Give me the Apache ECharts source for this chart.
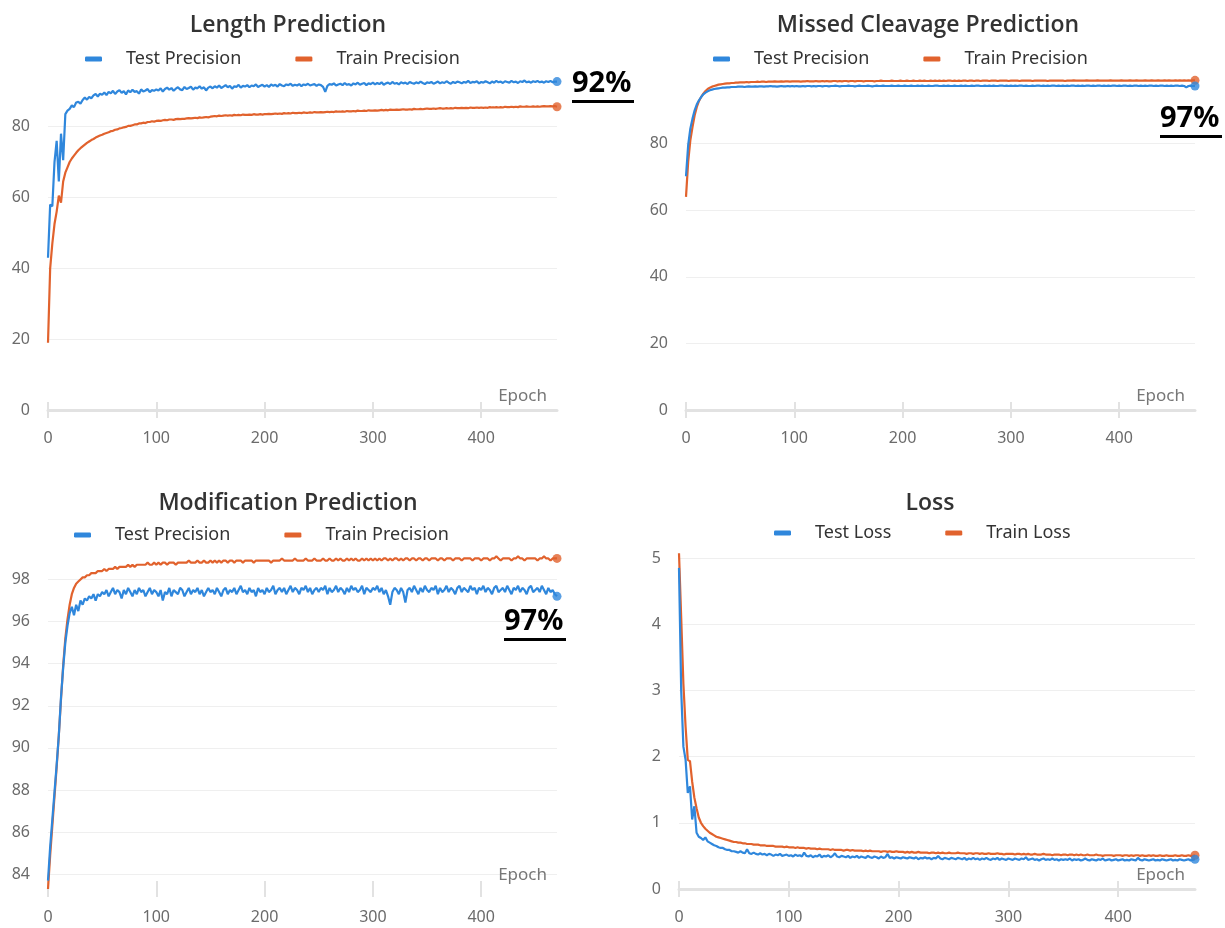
<!DOCTYPE html>
<html>
<head>
<meta charset="utf-8">
<script src="https://cdn.jsdelivr.net/npm/echarts@6/dist/echarts.min.js"></script>
<style>
  html, body { margin: 0; padding: 0; background: #ffffff; }
  #chart { width: 1225px; height: 928px; }
</style>
</head>
<body>
<div id="chart"></div>
<script>
// One value every EPOCH_STEP epochs, starting at epoch 0
const EPOCH_STEP = 2;
const epochTicks = [0, 100, 200, 300, 400];

const lengthTest = [
  43.0, 58.0, 57.5, 70.0, 76.0, 64.5, 78.0, 70.5, 83.5, 84.5, 85.0, 86.0, 85.5, 86.8, 87.0, 86.5, 87.5, 88.2, 87.6, 88.4, 88.0, 88.8, 89.2, 88.5, 89.3, 89.0,
  89.6, 88.9, 89.8, 89.4, 90.1, 89.2, 89.9, 90.3, 89.5, 90.0, 89.1, 90.2, 89.7, 90.4, 89.8, 90.0, 89.3, 90.5, 89.9, 90.2, 90.6, 89.7, 90.3, 90.1, 90.5,
  90.2, 90.8, 89.9, 90.6, 91.0, 90.4, 90.9, 90.1, 90.7, 91.1, 90.5, 90.3, 91.2, 90.6, 90.9, 91.3, 90.4, 91.0, 90.8, 91.4, 90.7, 91.1, 90.2, 91.0, 91.3,
  90.8, 91.4, 91.0, 91.6, 90.9, 91.3, 91.7, 91.1, 91.5, 90.7, 91.4, 91.2, 91.8, 91.0, 91.5, 91.3, 91.7, 91.1, 91.6, 91.4, 91.9, 91.2, 91.5, 91.8, 91.3,
  91.7, 91.2, 91.9, 91.5, 91.8, 91.3, 92.0, 91.6, 91.4, 91.9, 91.7, 92.1, 91.5, 91.8, 91.6, 92.0, 91.4, 91.9, 91.7, 92.1, 91.6, 91.8, 92.0, 91.5, 91.9,
  91.7, 91.2, 89.8, 91.5, 92.0, 91.8, 92.2, 91.6, 91.9, 92.1, 91.7, 92.3, 91.8, 92.0, 91.6, 92.2, 91.9, 92.4, 91.8, 92.1, 92.3, 91.7, 92.2, 92.0, 92.4,
  91.9, 92.3, 92.0, 92.5, 91.8, 92.2, 92.4, 92.0, 92.6, 92.1, 92.3, 91.9, 92.5, 92.2, 92.4, 92.0, 92.6, 92.3, 92.1, 92.5, 92.2, 92.7, 92.3, 92.0, 92.5,
  92.3, 92.6, 92.1, 92.4, 92.7, 92.2, 92.5, 92.3, 92.8, 92.4, 92.1, 92.6, 92.3, 92.7, 92.5, 92.2, 92.6, 92.4, 92.9, 92.3, 92.6, 92.5, 92.8, 92.2, 92.6,
  92.4, 92.8, 92.5, 92.2, 92.7, 92.4, 92.9, 92.5, 92.7, 92.3, 92.8, 92.6, 92.4, 92.9, 92.5, 92.7, 92.3, 92.8, 92.6, 93.0, 92.5, 92.7, 92.4, 92.8, 92.6,
  92.9, 92.5, 92.7, 92.4, 92.8, 92.6, 92.9, 92.5, 92.7, 92.7
];
const lengthTrain = [
  19.0, 40.0, 47.0, 52.5, 56.0, 60.5, 58.5, 64.5, 67.0, 68.5, 70.0, 71.0, 71.8, 72.6, 73.3, 73.9, 74.4, 74.9, 75.4, 75.8, 76.2, 76.5, 76.9, 77.2, 77.5, 77.7,
  78.0, 78.2, 78.4, 78.7, 78.8, 79.1, 79.2, 79.5, 79.6, 79.8, 79.9, 80.2, 80.2, 80.4, 80.6, 80.6, 80.9, 80.9, 81.1, 81.0, 81.3, 81.3, 81.5, 81.4, 81.6,
  81.7, 81.6, 81.8, 81.9, 81.8, 82.0, 82.0, 81.9, 82.1, 82.2, 82.1, 82.2, 82.2, 82.3, 82.4, 82.3, 82.4, 82.5, 82.4, 82.6, 82.5, 82.6, 82.7, 82.6, 82.8,
  82.9, 83.0, 82.9, 83.1, 83.0, 83.1, 83.2, 83.1, 83.2, 83.1, 83.3, 83.2, 83.3, 83.2, 83.4, 83.3, 83.3, 83.4, 83.3, 83.5, 83.4, 83.4, 83.5, 83.4, 83.5,
  83.5, 83.6, 83.5, 83.6, 83.7, 83.6, 83.7, 83.6, 83.8, 83.7, 83.8, 83.7, 83.9, 83.8, 83.8, 83.9, 83.8, 84.0, 83.9, 83.9, 84.0, 83.9, 84.1, 84.0, 84.0,
  84.1, 84.0, 84.1, 84.2, 84.1, 84.2, 84.1, 84.3, 84.2, 84.2, 84.3, 84.2, 84.4, 84.3, 84.3, 84.4, 84.3, 84.5, 84.4, 84.4, 84.5, 84.4, 84.6, 84.5, 84.5,
  84.6, 84.5, 84.6, 84.7, 84.6, 84.7, 84.6, 84.8, 84.7, 84.7, 84.8, 84.7, 84.8, 84.9, 84.8, 84.8, 84.9, 84.8, 85.0, 84.9, 84.9, 85.0, 84.9, 85.0, 85.1,
  85.0, 85.0, 85.1, 85.0, 85.1, 85.2, 85.1, 85.1, 85.2, 85.1, 85.2, 85.1, 85.3, 85.2, 85.2, 85.3, 85.2, 85.3, 85.2, 85.4, 85.3, 85.3, 85.4, 85.3, 85.4,
  85.3, 85.4, 85.3, 85.5, 85.4, 85.4, 85.5, 85.4, 85.5, 85.4, 85.6, 85.5, 85.5, 85.6, 85.5, 85.6, 85.5, 85.7, 85.6, 85.6, 85.7, 85.6, 85.6, 85.7, 85.6,
  85.7, 85.6, 85.7, 85.8, 85.7, 85.7, 85.8, 85.7, 85.8, 85.6
];

const cleavageTest = [
  70.2, 79.5, 84.5, 87.5, 90.0, 91.8, 93.0, 94.0, 94.8, 95.3, 95.7, 96.0, 96.2, 96.4, 96.5, 96.6, 96.7, 96.8, 96.8, 96.9, 96.9, 97.0, 97.0, 97.0, 97.1, 97.1,
  97.1, 97.0, 97.1, 97.2, 97.1, 97.1, 97.2, 97.1, 97.2, 97.2, 97.1, 97.2, 97.2, 97.3, 97.2, 97.2, 97.1, 97.2, 97.3, 97.2, 97.2, 97.3, 97.2, 97.3, 97.2,
  97.3, 97.2, 97.2, 97.3, 97.2, 97.3, 97.3, 97.2, 97.3, 97.2, 97.3, 97.3, 97.2, 97.3, 97.3, 97.2, 97.3, 97.3, 97.4, 97.3, 97.2, 97.3, 97.3, 97.3, 97.4,
  97.3, 97.3, 97.2, 97.3, 97.4, 97.3, 97.3, 97.3, 97.4, 97.3, 97.2, 97.3, 97.4, 97.3, 97.3, 97.4, 97.3, 97.3, 97.3, 97.4, 97.3, 97.3, 97.4, 97.3, 97.3,
  97.4, 97.3, 97.3, 97.4, 97.3, 97.3, 97.4, 97.3, 97.4, 97.3, 97.3, 97.4, 97.3, 97.3, 97.4, 97.4, 97.3, 97.3, 97.4, 97.3, 97.4, 97.3, 97.3, 97.4, 97.3,
  97.3, 97.4, 97.3, 97.4, 97.3, 97.3, 97.4, 97.3, 97.4, 97.4, 97.3, 97.3, 97.4, 97.3, 97.4, 97.3, 97.4, 97.3, 97.3, 97.4, 97.4, 97.3, 97.4, 97.3, 97.4,
  97.3, 97.4, 97.3, 97.4, 97.4, 97.3, 97.4, 97.3, 97.3, 97.4, 97.3, 97.4, 97.4, 97.3, 97.4, 97.3, 97.4, 97.3, 97.4, 97.4, 97.3, 97.4, 97.3, 97.4, 97.3,
  97.4, 97.3, 97.4, 97.4, 97.3, 97.4, 97.3, 97.4, 97.3, 97.4, 97.4, 97.3, 97.4, 97.3, 97.4, 97.4, 97.3, 97.4, 97.3, 97.4, 97.3, 97.4, 97.4, 97.3, 97.4,
  97.3, 97.4, 97.4, 97.3, 97.4, 97.3, 97.4, 97.4, 97.3, 97.4, 97.3, 97.4, 97.3, 97.4, 97.4, 97.3, 97.4, 97.3, 97.4, 97.4, 97.3, 97.4, 97.3, 97.4, 97.3,
  97.4, 97.4, 97.3, 97.4, 97.3, 96.9, 97.3, 97.4, 97.3, 97.3
];
const cleavageTrain = [
  64.0, 74.5, 81.0, 85.0, 88.5, 91.0, 92.8, 94.0, 95.0, 95.8, 96.4, 96.8, 97.1, 97.3, 97.5, 97.7, 97.8, 97.9, 98.0, 98.1, 98.1, 98.2, 98.2, 98.3, 98.3, 98.4,
  98.4, 98.4, 98.5, 98.4, 98.5, 98.5, 98.5, 98.6, 98.5, 98.6, 98.6, 98.5, 98.6, 98.6, 98.6, 98.7, 98.6, 98.6, 98.7, 98.6, 98.7, 98.7, 98.6, 98.7, 98.7,
  98.7, 98.7, 98.6, 98.7, 98.7, 98.8, 98.7, 98.7, 98.7, 98.8, 98.7, 98.7, 98.8, 98.7, 98.8, 98.7, 98.7, 98.8, 98.8, 98.7, 98.8, 98.7, 98.8, 98.8, 98.7,
  98.8, 98.8, 98.7, 98.8, 98.8, 98.8, 98.7, 98.8, 98.8, 98.8, 98.8, 98.7, 98.8, 98.8, 98.9, 98.8, 98.8, 98.8, 98.8, 98.9, 98.8, 98.8, 98.8, 98.9, 98.8,
  98.8, 98.9, 98.8, 98.8, 98.9, 98.8, 98.8, 98.9, 98.8, 98.9, 98.8, 98.8, 98.9, 98.8, 98.9, 98.8, 98.9, 98.8, 98.9, 98.8, 98.9, 98.9, 98.8, 98.9, 98.8,
  98.9, 98.8, 98.9, 98.9, 98.8, 98.9, 98.9, 98.8, 98.9, 98.9, 98.8, 98.9, 98.9, 98.9, 98.8, 98.9, 98.9, 98.9, 98.8, 98.9, 98.9, 98.9, 98.9, 98.8, 98.9,
  98.9, 98.9, 98.9, 98.8, 98.9, 98.9, 98.9, 98.9, 98.9, 98.8, 98.9, 98.9, 98.9, 98.9, 98.9, 98.9, 98.8, 98.9, 98.9, 98.9, 98.9, 98.9, 98.9, 98.9, 98.8,
  98.9, 98.9, 98.9, 99.0, 98.9, 98.9, 98.9, 98.9, 98.9, 99.0, 98.9, 98.9, 98.9, 98.9, 99.0, 98.9, 98.9, 98.9, 98.9, 98.9, 99.0, 98.9, 98.9, 98.9, 98.9,
  99.0, 98.9, 98.9, 98.9, 99.0, 98.9, 98.9, 99.0, 98.9, 98.9, 98.9, 99.0, 98.9, 98.9, 99.0, 98.9, 98.9, 99.0, 98.9, 98.9, 99.0, 98.9, 99.0, 98.9, 98.9,
  99.0, 98.9, 99.0, 98.9, 99.0, 98.9, 99.0, 98.9, 99.0, 99.0
];

const modificationTest = [
  83.7, 85.3, 86.6, 87.9, 89.2, 90.6, 92.4, 93.8, 95.0, 95.8, 96.4, 96.7, 96.3, 96.8, 96.5, 97.0, 96.8, 97.1, 97.0, 97.2, 97.1, 97.3, 97.0, 97.3, 97.2, 97.4,
  97.3, 97.5, 97.2, 97.4, 97.6, 97.3, 97.5, 97.4, 97.1, 97.5, 97.3, 97.6, 97.4, 97.2, 97.5, 97.3, 97.6, 97.4, 97.5, 97.2, 97.4, 97.6, 97.3, 97.5, 97.4,
  97.2, 97.5, 97.0, 97.4, 97.3, 97.6, 97.2, 97.5, 97.4, 97.3, 97.6, 97.5, 97.2, 97.4, 97.6, 97.3, 97.5, 97.4, 97.6, 97.3, 97.5, 97.2, 97.4, 97.6, 97.4,
  97.5, 97.3, 97.6, 97.4, 97.2, 97.5, 97.6, 97.3, 97.5, 97.4, 97.6, 97.3, 97.5, 97.7, 97.4, 97.5, 97.3, 97.6, 97.4, 97.5, 97.2, 97.6, 97.4, 97.5, 97.3,
  97.6, 97.4, 97.5, 97.7, 97.3, 97.5, 97.6, 97.4, 97.6, 97.3, 97.5, 97.7, 97.4, 97.6, 97.5, 97.3, 97.6, 97.5, 97.7, 97.4, 97.6, 97.3, 97.5, 97.6, 97.4,
  97.6, 97.5, 97.7, 97.3, 97.6, 97.4, 97.5, 97.7, 97.4, 97.6, 97.5, 97.3, 97.6, 97.4, 97.7, 97.5, 97.6, 97.4, 97.5, 97.7, 97.3, 97.6, 97.5, 97.4, 97.6,
  97.5, 97.7, 97.4, 97.6, 97.3, 97.5, 97.2, 96.8, 97.4, 97.6, 97.5, 97.3, 97.6, 97.4, 96.9, 97.5, 97.6, 97.4, 97.7, 97.5, 97.3, 97.6, 97.4, 97.7, 97.5,
  97.4, 97.6, 97.5, 97.7, 97.3, 97.6, 97.4, 97.5, 97.7, 97.4, 97.6, 97.5, 97.3, 97.6, 97.7, 97.4, 97.6, 97.5, 97.4, 97.7, 97.5, 97.6, 97.3, 97.6, 97.5,
  97.7, 97.4, 97.6, 97.5, 97.3, 97.6, 97.7, 97.4, 97.5, 97.6, 97.4, 97.7, 97.5, 97.3, 97.6, 97.5, 97.7, 97.4, 97.6, 97.5, 97.3, 97.6, 97.7, 97.4, 97.5,
  97.6, 97.4, 97.7, 97.5, 97.3, 97.6, 97.4, 97.5, 97.3, 97.2
];
const modificationTrain = [
  83.3, 84.9, 86.3, 87.7, 89.1, 90.6, 92.3, 93.9, 95.2, 96.1, 96.8, 97.3, 97.6, 97.8, 97.9, 98.0, 98.1, 98.1, 98.2, 98.2, 98.3, 98.3, 98.3, 98.4, 98.4, 98.4,
  98.5, 98.4, 98.5, 98.5, 98.5, 98.6, 98.5, 98.6, 98.6, 98.6, 98.6, 98.7, 98.6, 98.7, 98.6, 98.7, 98.7, 98.7, 98.7, 98.7, 98.8, 98.7, 98.7, 98.8, 98.7,
  98.8, 98.7, 98.8, 98.8, 98.7, 98.8, 98.8, 98.8, 98.7, 98.8, 98.8, 98.8, 98.8, 98.8, 98.9, 98.8, 98.8, 98.8, 98.9, 98.8, 98.8, 98.9, 98.8, 98.8, 98.9,
  98.8, 98.9, 98.8, 98.9, 98.8, 98.9, 98.9, 98.8, 98.9, 98.9, 98.8, 98.9, 98.9, 98.9, 98.8, 98.9, 98.9, 98.9, 98.9, 98.8, 98.9, 98.9, 98.9, 98.9, 98.9,
  98.9, 98.9, 98.8, 98.9, 98.9, 98.9, 98.9, 99.0, 98.9, 98.9, 98.9, 98.9, 98.9, 99.0, 98.9, 98.9, 98.9, 98.9, 99.0, 98.9, 98.9, 98.9, 99.0, 98.9, 98.9,
  98.9, 99.0, 98.9, 98.9, 99.0, 98.9, 98.9, 99.0, 98.9, 99.0, 98.9, 98.9, 99.0, 98.9, 99.0, 98.9, 99.0, 98.9, 98.9, 99.0, 98.9, 99.0, 98.9, 99.0, 98.9,
  99.0, 98.9, 99.0, 98.9, 99.0, 99.0, 98.9, 99.0, 98.9, 99.0, 99.0, 98.9, 99.0, 98.9, 99.0, 99.0, 98.9, 99.0, 99.0, 98.9, 99.0, 99.0, 98.9, 99.0, 99.0,
  98.9, 99.0, 99.0, 99.0, 98.9, 99.0, 99.0, 98.9, 99.0, 99.0, 99.0, 98.9, 99.0, 99.0, 99.0, 98.9, 99.0, 99.0, 99.0, 99.0, 98.9, 99.0, 99.0, 99.0, 98.9,
  99.0, 99.0, 99.0, 98.9, 99.0, 99.0, 99.1, 99.0, 98.9, 99.0, 99.0, 99.0, 99.0, 98.9, 99.0, 99.0, 99.1, 99.0, 99.0, 98.9, 99.0, 99.0, 99.0, 99.0, 99.0,
  98.9, 99.0, 99.0, 99.1, 99.0, 99.0, 98.9, 99.0, 99.0, 99.0
];

const lossTest = [
  4.85, 3.00, 2.15, 1.95, 1.45, 1.55, 1.05, 1.25, 0.85, 0.79, 0.77, 0.74, 0.78, 0.72, 0.70, 0.68, 0.66, 0.65, 0.63, 0.62, 0.62, 0.60, 0.59, 0.59, 0.57, 0.57,
  0.56, 0.55, 0.57, 0.55, 0.54, 0.60, 0.54, 0.53, 0.55, 0.53, 0.52, 0.54, 0.52, 0.53, 0.51, 0.53, 0.52, 0.50, 0.52, 0.51, 0.53, 0.50, 0.51, 0.52, 0.50,
  0.51, 0.49, 0.52, 0.50, 0.51, 0.49, 0.55, 0.50, 0.49, 0.51, 0.48, 0.50, 0.49, 0.52, 0.48, 0.50, 0.49, 0.51, 0.48, 0.50, 0.54, 0.49, 0.48, 0.50, 0.49,
  0.48, 0.50, 0.47, 0.49, 0.48, 0.50, 0.47, 0.49, 0.48, 0.47, 0.50, 0.48, 0.47, 0.49, 0.48, 0.46, 0.49, 0.47, 0.48, 0.53, 0.47, 0.48, 0.46, 0.48, 0.47,
  0.46, 0.48, 0.47, 0.46, 0.48, 0.47, 0.46, 0.48, 0.45, 0.47, 0.46, 0.48, 0.46, 0.47, 0.45, 0.47, 0.46, 0.50, 0.46, 0.45, 0.47, 0.46, 0.45, 0.47, 0.46,
  0.45, 0.47, 0.46, 0.45, 0.47, 0.44, 0.46, 0.45, 0.47, 0.45, 0.46, 0.44, 0.46, 0.45, 0.47, 0.45, 0.44, 0.46, 0.45, 0.47, 0.44, 0.46, 0.45, 0.44, 0.46,
  0.45, 0.44, 0.46, 0.45, 0.44, 0.46, 0.45, 0.48, 0.44, 0.45, 0.46, 0.44, 0.45, 0.43, 0.45, 0.46, 0.44, 0.45, 0.44, 0.46, 0.44, 0.45, 0.43, 0.45, 0.44,
  0.45, 0.44, 0.46, 0.43, 0.45, 0.44, 0.45, 0.43, 0.44, 0.46, 0.44, 0.43, 0.45, 0.44, 0.43, 0.45, 0.44, 0.46, 0.43, 0.44, 0.45, 0.43, 0.44, 0.45, 0.43,
  0.44, 0.45, 0.43, 0.44, 0.43, 0.45, 0.44, 0.43, 0.47, 0.44, 0.43, 0.45, 0.44, 0.43, 0.44, 0.45, 0.43, 0.44, 0.43, 0.45, 0.44, 0.43, 0.44, 0.45, 0.43,
  0.44, 0.43, 0.45, 0.44, 0.43, 0.44, 0.45, 0.43, 0.44, 0.45
];
const lossTrain = [
  5.07, 4.10, 3.10, 2.45, 1.95, 1.93, 1.62, 1.38, 1.22, 1.08, 1.00, 0.95, 0.91, 0.88, 0.85, 0.83, 0.81, 0.79, 0.78, 0.77, 0.76, 0.75, 0.74, 0.73, 0.72, 0.71,
  0.71, 0.70, 0.70, 0.69, 0.69, 0.68, 0.68, 0.68, 0.67, 0.67, 0.67, 0.66, 0.66, 0.66, 0.65, 0.65, 0.65, 0.65, 0.64, 0.64, 0.64, 0.64, 0.63, 0.64, 0.63,
  0.63, 0.63, 0.62, 0.63, 0.62, 0.62, 0.62, 0.61, 0.62, 0.61, 0.61, 0.61, 0.60, 0.61, 0.60, 0.60, 0.60, 0.60, 0.59, 0.60, 0.59, 0.59, 0.59, 0.59, 0.58,
  0.59, 0.59, 0.58, 0.59, 0.58, 0.58, 0.58, 0.58, 0.57, 0.58, 0.57, 0.58, 0.57, 0.57, 0.57, 0.57, 0.56, 0.57, 0.57, 0.56, 0.57, 0.56, 0.56, 0.57, 0.56,
  0.56, 0.56, 0.55, 0.56, 0.55, 0.56, 0.55, 0.55, 0.56, 0.55, 0.55, 0.55, 0.55, 0.54, 0.55, 0.55, 0.54, 0.55, 0.54, 0.55, 0.54, 0.54, 0.55, 0.54, 0.54,
  0.54, 0.55, 0.54, 0.54, 0.54, 0.53, 0.54, 0.54, 0.53, 0.54, 0.54, 0.53, 0.54, 0.53, 0.53, 0.54, 0.53, 0.53, 0.53, 0.54, 0.53, 0.53, 0.52, 0.53, 0.53,
  0.53, 0.53, 0.52, 0.53, 0.53, 0.52, 0.53, 0.52, 0.53, 0.52, 0.52, 0.53, 0.52, 0.52, 0.52, 0.53, 0.52, 0.52, 0.52, 0.51, 0.52, 0.52, 0.52, 0.51, 0.52,
  0.52, 0.51, 0.52, 0.52, 0.51, 0.52, 0.51, 0.52, 0.51, 0.51, 0.52, 0.51, 0.51, 0.51, 0.52, 0.51, 0.51, 0.50, 0.51, 0.51, 0.51, 0.51, 0.50, 0.51, 0.51,
  0.51, 0.50, 0.51, 0.51, 0.50, 0.51, 0.50, 0.51, 0.51, 0.50, 0.51, 0.50, 0.50, 0.51, 0.50, 0.51, 0.50, 0.50, 0.51, 0.50, 0.50, 0.51, 0.50, 0.50, 0.50,
  0.51, 0.50, 0.50, 0.51, 0.50, 0.50, 0.51, 0.50, 0.50, 0.51
];

const FONT = '"Noto Sans", "Open Sans", sans-serif';
const TITLE_FONT = '"Open Sans", "Noto Sans", sans-serif';
const BLUE = '#2f87dc';
const ORANGE = '#e1622d';
const AXIS_GREY = '#e2e2e2';
const LABEL_GREY = '#6b6b6b';

// Panel layout: title, legend, plot area and value range of each chart
const panels = [
  { title: 'Length Prediction', names: ['Test Precision', 'Train Precision'],
    test: lengthTest, train: lengthTrain,
    grid: { left: 48, top: 77, width: 509, height: 333 },
    y: { min: 0, max: 94, interval: 20 },
    titleX: 288, titleY: 14, legendX: 85, legendY: 50, axisLine: true },
  { title: 'Missed Cleavage Prediction', names: ['Test Precision', 'Train Precision'],
    test: cleavageTest, train: cleavageTrain,
    grid: { left: 686, top: 77, width: 509, height: 333 },
    y: { min: 0, max: 100, interval: 20 },
    titleX: 928, titleY: 14, legendX: 713, legendY: 50, axisLine: true },
  { title: 'Modification Prediction', names: ['Test Precision', 'Train Precision'],
    test: modificationTest, train: modificationTrain,
    grid: { left: 48, top: 550, width: 509, height: 339 },
    y: { min: 83.3, max: 99.4, splitNumber: 8 },
    titleX: 288, titleY: 492, legendX: 74, legendY: 526, axisLine: false },
  { title: 'Loss', names: ['Test Loss', 'Train Loss'],
    test: lossTest, train: lossTrain,
    grid: { left: 679, top: 550, width: 516, height: 339 },
    y: { min: 0, max: 5.12, interval: 1 },
    titleX: 930, titleY: 492, legendX: 774, legendY: 524, axisLine: true }
];

function toPoints(values) {
  return values.map((v, i) => [i * EPOCH_STEP, v]);
}

const option = {
  animation: false,
  backgroundColor: '#ffffff',
  textStyle: { fontFamily: FONT },
  title: [], legend: [], grid: [], xAxis: [], yAxis: [], series: [], graphic: []
};

panels.forEach((p, i) => {
  const lastEpoch = (p.test.length - 1) * EPOCH_STEP;
  const tickStyle = { color: AXIS_GREY, width: 2 };

  option.title.push({
    text: p.title, left: p.titleX, top: p.titleY, textAlign: 'center', padding: 0,
    textStyle: { fontFamily: TITLE_FONT, fontSize: 23, fontWeight: 600, color: '#333333' }
  });

  option.legend.push({
    data: p.names, left: p.legendX, top: p.legendY, padding: 0,
    icon: 'roundRect', itemWidth: 17, itemHeight: 5, itemGap: 54,
    textStyle: { fontFamily: FONT, fontSize: 18, color: '#333333', padding: [0, 0, 0, 19] }
  });

  option.grid.push(Object.assign({ containLabel: false, outerBoundsMode: 'none' }, p.grid));

  // main x axis: line, outward ticks, labels and name
  option.xAxis.push({
    type: 'value', gridIndex: i, position: 'bottom', min: 0, max: lastEpoch,
    name: 'Epoch', nameLocation: 'end', nameGap: -10,
    nameTextStyle: { fontFamily: FONT, fontSize: 17, color: '#777777', align: 'right', verticalAlign: 'bottom', padding: [0, 0, 5, 0] },
    axisLine: { show: p.axisLine, onZero: false, lineStyle: { color: AXIS_GREY, width: 3 } },
    axisTick: { show: true, length: 8, lineStyle: tickStyle, customValues: epochTicks },
    axisLabel: { customValues: epochTicks, margin: 20, fontFamily: FONT, fontSize: 16, color: LABEL_GREY },
    splitLine: { show: false }
  });
  // companion x axis: inward half of the tick marks
  option.xAxis.push({
    type: 'value', gridIndex: i, position: 'bottom', min: 0, max: lastEpoch,
    axisLine: { show: false, onZero: false },
    axisTick: { show: true, inside: true, length: 8, lineStyle: tickStyle, customValues: epochTicks },
    axisLabel: { show: false },
    splitLine: { show: false }
  });

  option.yAxis.push(Object.assign({
    type: 'value', gridIndex: i,
    axisLine: { show: false }, axisTick: { show: false },
    axisLabel: { fontFamily: FONT, fontSize: 16, color: LABEL_GREY, margin: 18, showMaxLabel: false, showMinLabel: i !== 2 },
    splitLine: { show: true, showMaxLine: false, showMinLine: i !== 2, lineStyle: { color: '#efefef', width: 1 } }
  }, p.y));

  const xIdx = i * 2;
  [[p.train, p.names[1], ORANGE], [p.test, p.names[0], BLUE]].forEach(([vals, name, color]) => {
    option.series.push({
      type: 'line', name: name, xAxisIndex: xIdx, yAxisIndex: i,
      data: toPoints(vals), showSymbol: false, symbol: 'none',
      lineStyle: { color: color, width: 2.2 }, itemStyle: { color: color },
      emphasis: { disabled: true }
    });
    option.series.push({
      type: 'scatter', name: name, xAxisIndex: xIdx, yAxisIndex: i,
      data: [[(vals.length - 1) * EPOCH_STEP, vals[vals.length - 1]]],
      symbol: 'circle', symbolSize: 9, itemStyle: { color: color }, z: 3
    });
  });
});

// Headline accuracy callouts
const callouts = [
  { text: '92%', x: 572, y: 69, w: 62 },
  { text: '97%', x: 1160, y: 104, w: 62 },
  { text: '97%', x: 504, y: 607, w: 62 }
];
callouts.forEach(c => {
  option.graphic.push({
    type: 'text', left: c.x, top: c.y, z: 10,
    style: { text: c.text, font: 'bold 29px "Noto Sans", sans-serif', fill: '#000000' }
  });
  option.graphic.push({
    type: 'rect', left: c.x, top: c.y + 31, z: 10,
    shape: { width: c.w, height: 3 }, style: { fill: '#000000' }
  });
});

const chart = echarts.init(document.getElementById('chart'), null, { renderer: 'canvas' });
chart.setOption(option);
</script>
</body>
</html>
